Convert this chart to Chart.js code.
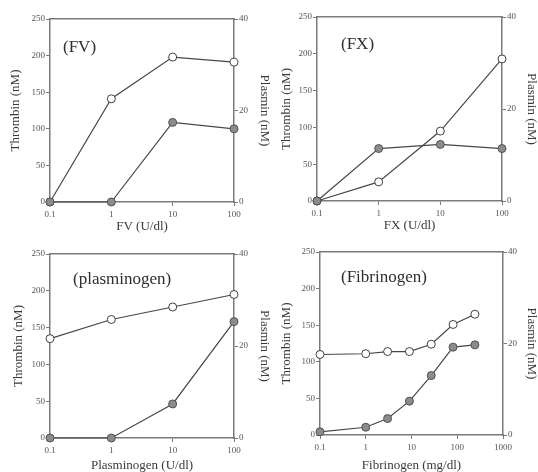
<!DOCTYPE html>
<html>
<head>
<meta charset="utf-8">
<script src="https://cdn.jsdelivr.net/npm/chart.js@4.4.0/dist/chart.umd.min.js"></script>
<style>
body { margin: 0; background: #fff; }
#wrap { position: relative; width: 538px; height: 472px; overflow: hidden; background: #fff; }
canvas { position: absolute; }
</style>
</head>
<body>
<div id="wrap">
  <canvas id="c1" width="276" height="236" style="left:0;top:0"></canvas>
  <canvas id="c2" width="270" height="236" style="left:268px;top:0"></canvas>
  <canvas id="c3" width="276" height="236" style="left:0;top:236px"></canvas>
  <canvas id="c4" width="270" height="236" style="left:268px;top:236px"></canvas>
</div>
<script>
// open circles = thrombin (left axis, nM), filled circles = plasmin (right axis, nM)
var xFV = [0.1, 1, 10, 100];
var thrombinFV = [0, 141, 198, 191];
var plasminFV = [0, 0, 17.4, 16.0];

var xFX = [0.1, 1, 10, 100];
var thrombinFX = [0, 26, 95, 193];
var plasminFX = [0, 11.4, 12.3, 11.4];

var xPlg = [0.1, 1, 10, 100];
var thrombinPlg = [135, 161, 178, 195];
var plasminPlg = [0, 0, 7.4, 25.3];

var xFbg = [0.1, 1, 3, 9, 27, 81, 243];
var thrombinFbg = [110, 111, 114, 114, 124, 151, 165];
var plasminFbg = [0.7, 1.7, 3.6, 7.4, 13.0, 19.2, 19.7];

var thrombinTicks = [0, 50, 100, 150, 200, 250];
var plasminTicks = [0, 20, 40];
var xTicks3 = [0.1, 1, 10, 100];
var xTicks4 = [0.1, 1, 10, 100, 1000];

var serif = '"Liberation Serif", "Times New Roman", serif';
var axisColor = '#7a7a7a';
var textColor = '#3a3a3a';

function pairs(xs, ys) {
    return xs.map(function (x, i) { return { x: x, y: ys[i] }; });
}

function fixTicks(list) {
    return function (scale) {
        scale.ticks = list.map(function (v) { return { value: v }; });
    };
}

var panelLabel = {
    id: 'panelLabel',
    afterDraw: function (chart, args, opts) {
        var a = chart.chartArea;
        var ctx = chart.ctx;
        ctx.save();
        ctx.font = '17px ' + serif;
        ctx.fillStyle = '#2e2e2e';
        ctx.textBaseline = 'middle';
        ctx.fillText(opts.text, a.left + opts.dx, a.top + opts.dy);
        ctx.restore();
    }
};

function makePanel(id, p) {
    var xMax = p.xTicks[p.xTicks.length - 1];
    var tickFont = { family: serif, size: 9 };
    var titleFont = { family: serif, size: 13, lineHeight: 1 };
    new Chart(document.getElementById(id).getContext('2d'), {
        type: 'line',
        data: {
            datasets: [{
                label: 'Plasmin (nM)',
                data: pairs(p.xs, p.plasmin),
                yAxisID: 'y2',
                borderColor: '#474747',
                borderWidth: 1.2,
                pointRadius: 4,
                pointBackgroundColor: '#8c8c8c',
                pointBorderColor: '#505050',
                pointBorderWidth: 1,
                clip: false
            }, {
                label: 'Thrombin (nM)',
                data: pairs(p.xs, p.thrombin),
                yAxisID: 'y',
                borderColor: '#474747',
                borderWidth: 1.2,
                pointRadius: 4,
                pointBackgroundColor: '#ffffff',
                pointBorderColor: '#404040',
                pointBorderWidth: 1,
                clip: false
            }]
        },
        options: {
            responsive: false,
            animation: false,
            layout: { padding: { top: p.top, left: 0, right: 0, bottom: 0 } },
            plugins: {
                legend: { display: false },
                tooltip: { enabled: false },
                panelLabel: { text: p.label, dx: p.dx, dy: p.dy }
            },
            scales: {
                x: {
                    type: 'logarithmic',
                    position: 'bottom',
                    min: 0.1,
                    max: xMax,
                    afterBuildTicks: fixTicks(p.xTicks),
                    afterFit: function (s) { s.height = p.bottom; },
                    ticks: {
                        font: tickFont, color: '#555', padding: 3, maxRotation: 0,
                        callback: function (v) { return String(v); }
                    },
                    grid: { drawOnChartArea: false, tickLength: 4, color: axisColor },
                    border: { color: axisColor, width: 1.5 },
                    title: {
                        display: true, text: p.xTitle, font: titleFont, color: textColor,
                        padding: { top: 0, bottom: p.xPad }
                    }
                },
                xt: {
                    type: 'logarithmic',
                    position: 'top',
                    min: 0.1,
                    max: xMax,
                    afterFit: function (s) { s.height = 0; },
                    ticks: { display: false },
                    grid: { display: false },
                    border: { color: axisColor, width: 1.5 }
                },
                y: {
                    position: 'left',
                    min: 0,
                    max: 250,
                    afterBuildTicks: fixTicks(thrombinTicks),
                    afterFit: function (s) { s.width = p.left; },
                    ticks: { font: tickFont, color: '#555', padding: 1 },
                    grid: { drawOnChartArea: false, tickLength: 4, color: axisColor },
                    border: { color: axisColor, width: 1.5 },
                    title: {
                        display: true, text: 'Thrombin (nM)', font: titleFont, color: textColor,
                        padding: { top: p.lPad, bottom: 0 }
                    }
                },
                y2: {
                    position: 'right',
                    min: 0,
                    max: 40,
                    afterBuildTicks: fixTicks(plasminTicks),
                    afterFit: function (s) { s.width = p.right; },
                    ticks: { font: tickFont, color: '#555', padding: 1 },
                    grid: { drawOnChartArea: false, tickLength: 4, color: axisColor },
                    border: { color: axisColor, width: 1.5 },
                    title: {
                        display: true, text: 'Plasmin (nM)', font: titleFont, color: textColor,
                        padding: { top: p.rPad, bottom: 0 }
                    }
                }
            }
        },
        plugins: [panelLabel]
    });
}

makePanel('c1', {
    label: '(FV)', xTitle: 'FV (U/dl)', xs: xFV, thrombin: thrombinFV, plasmin: plasminFV,
    xTicks: xTicks3, left: 50, right: 42, bottom: 34, top: 19,
    lPad: 9.5, rPad: 5.5, xPad: 3, dx: 13, dy: 29
});
makePanel('c2', {
    label: '(FX)', xTitle: 'FX (U/dl)', xs: xFX, thrombin: thrombinFX, plasmin: plasminFX,
    xTicks: xTicks3, left: 49, right: 36, bottom: 35, top: 17,
    lPad: 12.5, rPad: 0, xPad: 3.5, dx: 24, dy: 28
});
makePanel('c3', {
    label: '(plasminogen)', xTitle: 'Plasminogen (U/dl)', xs: xPlg, thrombin: thrombinPlg, plasmin: plasminPlg,
    xTicks: xTicks3, left: 50, right: 42, bottom: 34, top: 18,
    lPad: 12.5, rPad: 5.5, xPad: 0, dx: 23, dy: 25.5
});
makePanel('c4', {
    label: '(Fibrinogen)', xTitle: 'Fibrinogen (mg/dl)', xs: xFbg, thrombin: thrombinFbg, plasmin: plasminFbg,
    xTicks: xTicks4, left: 52, right: 35, bottom: 37, top: 16,
    lPad: 12.5, rPad: 0, xPad: 0, dx: 21, dy: 26
});
</script>
</body>
</html>
